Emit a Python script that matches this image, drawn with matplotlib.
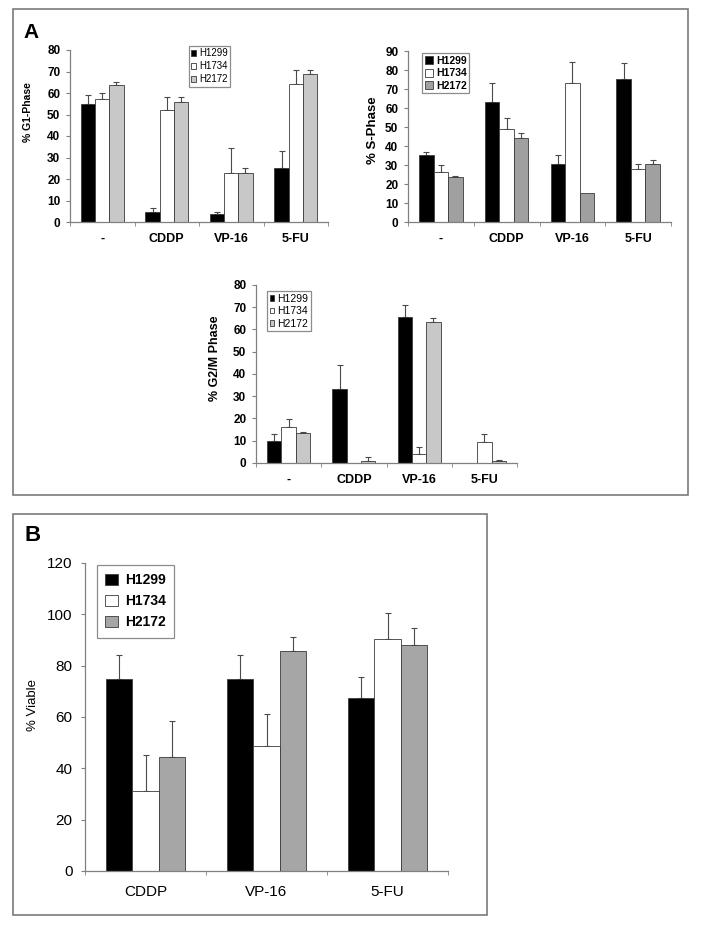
import numpy as np
import matplotlib
matplotlib.use("Agg")
import matplotlib.pyplot as plt
from matplotlib.patches import Rectangle

plt.rcParams["font.family"] = ["Liberation Sans", "DejaVu Sans"]

# ---------------------------------------------------------------------------
# Data
# ---------------------------------------------------------------------------
lines = ["H1299", "H1734", "H2172"]
cats_a = ["-", "CDDP", "VP-16", "5-FU"]
cats_b = ["CDDP", "VP-16", "5-FU"]

# % G1-phase
g1_h1299 = [55.0, 4.6, 3.9, 25.0]
g1_h1734 = [57.0, 52.0, 23.0, 64.0]
g1_h2172 = [63.5, 56.0, 22.8, 69.0]
g1_err_h1299 = [4.0, 1.8, 0.6, 8.0]
g1_err_h1734 = [2.8, 6.0, 11.5, 6.5]
g1_err_h2172 = [1.5, 2.3, 2.4, 1.5]

# % S-phase
s_h1299 = [35.4, 63.0, 30.4, 75.4]
s_h1734 = [26.3, 49.0, 73.0, 27.7]
s_h2172 = [23.7, 44.0, 15.3, 30.4]
s_err_h1299 = [1.3, 10.0, 4.7, 8.3]
s_err_h1734 = [3.9, 5.6, 11.0, 2.7]
s_err_h2172 = [0.5, 3.0, 0.0, 2.0]

# % G2/M phase
g2m_h1299 = [10.0, 33.2, 65.8, 0.0]
g2m_h1734 = [16.4, 0.2, 4.0, 9.3]
g2m_h2172 = [13.5, 1.0, 63.2, 0.9]
g2m_err_h1299 = [3.0, 10.8, 5.0, 0.0]
g2m_err_h1734 = [3.3, 0.0, 3.0, 3.7]
g2m_err_h2172 = [0.5, 1.5, 1.8, 0.4]

# % viable
v_h1299 = [75.0, 75.0, 67.5]
v_h1734 = [31.0, 48.8, 90.5]
v_h2172 = [44.5, 85.8, 88.0]
v_err_h1299 = [9.0, 9.0, 8.0]
v_err_h1734 = [14.3, 12.2, 9.9]
v_err_h2172 = [14.0, 5.4, 6.6]

# ---------------------------------------------------------------------------
W, H = 702, 931
fig = plt.figure(figsize=(W / 100, H / 100), dpi=100)
AXC = "#808080"


def px_box(x0, y0, x1, y1):
    return [x0 / W, 1 - y1 / H, (x1 - x0) / W, (y1 - y0) / H]


def px(x, y):
    return x / W, 1 - y / H


def bar_chart(box, cats, series, errs, gray, ymax, ystep, ylabel_kw,
              tick_fs, cat_fs, bold, cat_pad, ytick_pad):
    ax = fig.add_axes(px_box(*box))
    n = len(cats)
    x = np.arange(n)
    w = 0.22
    colors = ["black", "white", gray]
    handles = []
    for i, (vals, er) in enumerate(zip(series, errs)):
        xi = x + (i - 1) * w
        vals = np.array(vals)
        er = np.array(er)
        keep = er > 0
        ax.errorbar(xi[keep], vals[keep], yerr=[np.zeros(keep.sum()), er[keep]],
                    fmt="none", ecolor="#4a4a4a", elinewidth=0.8,
                    capsize=2, capthick=0.8, zorder=1)
        b = ax.bar(xi, vals, w, color=colors[i], edgecolor="#3a3a3a",
                   linewidth=0.6, zorder=2, label=lines[i])
        handles.append(b)
    ax.set_xlim(-0.5, n - 0.5)
    ax.set_ylim(0, ymax)
    ax.set_yticks(np.arange(0, ymax + 0.1, ystep))
    ax.set_xticks(x)
    ax.set_xticklabels(cats)
    ax.set_xticks(np.arange(n + 1) - 0.5, minor=True)
    for s in ["top", "right"]:
        ax.spines[s].set_visible(False)
    for s in ["left", "bottom"]:
        ax.spines[s].set_color(AXC)
        ax.spines[s].set_linewidth(0.9)
    weight = "bold" if bold else "normal"
    ax.tick_params(axis="x", which="major", length=0, pad=cat_pad,
                   labelsize=cat_fs)
    ax.tick_params(axis="x", which="minor", length=3, color=AXC, direction="out")
    ax.tick_params(axis="y", length=3, color=AXC, direction="out",
                   pad=ytick_pad, labelsize=tick_fs)
    for lab in ax.get_xticklabels() + ax.get_yticklabels():
        lab.set_fontweight(weight)
    ax.patch.set_alpha(0)
    fig.text(*px(ylabel_kw["x"], ylabel_kw["y"]), ylabel_kw["text"],
             rotation=90, ha="center", va="center",
             fontsize=ylabel_kw["fs"], fontweight=weight)
    return ax, handles


def add_legend(ax, handles, anchor, fs, bold, hsize, spacing, pad, tpad=0.3):
    leg = ax.legend(handles, lines, loc="upper left",
                    bbox_to_anchor=px(*anchor), bbox_transform=fig.transFigure,
                    frameon=True, fancybox=False,
                    borderaxespad=0, borderpad=pad, labelspacing=spacing,
                    handlelength=hsize, handleheight=hsize,
                    handletextpad=tpad,
                    prop={"weight": "bold" if bold else "normal", "size": fs})
    leg.get_frame().set_edgecolor("#707070")
    leg.get_frame().set_linewidth(0.9)
    return leg


# Panel frames
fig.patches.append(Rectangle(px(13, 495), 675 / W, 486 / H, transform=fig.transFigure,
                             fill=False, edgecolor="#7a7a7a", linewidth=1.2))
fig.patches.append(Rectangle(px(13, 915), 474 / W, 401 / H, transform=fig.transFigure,
                             fill=False, edgecolor="#7a7a7a", linewidth=1.2))
fig.text(*px(23, 23), "A", fontsize=15, fontweight="bold", ha="left", va="top")
fig.text(*px(24, 525), "B", fontsize=16, fontweight="bold", ha="left", va="top")

# G1
ax1, h1 = bar_chart((70, 50, 328, 222), cats_a,
                    [g1_h1299, g1_h1734, g1_h2172],
                    [g1_err_h1299, g1_err_h1734, g1_err_h2172],
                    "#c8c8c8", 80, 10,
                    dict(x=28, y=112, text="% G1-Phase", fs=7.5),
                    8.5, 9, True, 8, 4)
add_legend(ax1, h1, (189, 46), 7, False, 0.5, 0.3, 0.25)

# S
ax2, h2 = bar_chart((408, 51, 671, 222), cats_a,
                    [s_h1299, s_h1734, s_h2172],
                    [s_err_h1299, s_err_h1734, s_err_h2172],
                    "#a0a0a0", 90, 10,
                    dict(x=373, y=130, text="% S-Phase", fs=9.5),
                    8.5, 9, True, 8, 4)
add_legend(ax2, h2, (422, 53), 7.5, True, 0.8, 0.25, 0.25)

# G2/M
ax3, h3 = bar_chart((256, 285, 517, 463), cats_a,
                    [g2m_h1299, g2m_h1734, g2m_h2172],
                    [g2m_err_h1299, g2m_err_h1734, g2m_err_h2172],
                    "#c8c8c8", 80, 10,
                    dict(x=215, y=358, text="% G2/M Phase", fs=9),
                    8.5, 9, True, 8, 4)
add_legend(ax3, h3, (267, 291), 7.5, False, 0.4, 0.25, 0.25)

# Viability
ax4, h4 = bar_chart((85, 563, 448, 871), cats_b,
                    [v_h1299, v_h1734, v_h2172],
                    [v_err_h1299, v_err_h1734, v_err_h2172],
                    "#a6a6a6", 120, 20,
                    dict(x=33, y=705, text="% Viable", fs=9.5),
                    11, 11, False, 10, 6)
add_legend(ax4, h4, (97, 565), 10, True, 0.9, 0.5, 0.6, 0.5)

fig.savefig("out.png", dpi=100)
